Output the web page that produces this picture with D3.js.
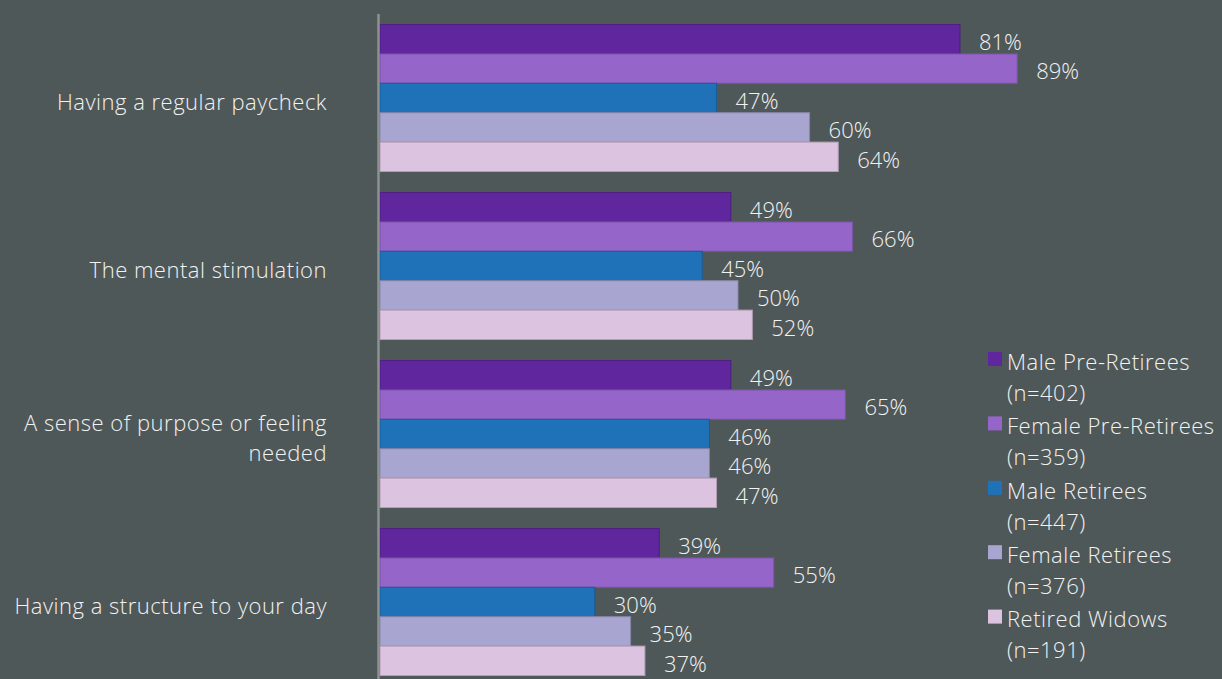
<!DOCTYPE html>
<html lang="en">
<head>
<meta charset="UTF-8">
<title>Work aspects missed</title>
<script src="https://d3js.org/d3.v7.min.js"></script>
<style>
  html, body { margin: 0; padding: 0; background: #4f5858; }
  svg { display: block; }
  text { font-family: "Open Sans", "Noto Sans", sans-serif; font-weight: 300; fill: #f2f2f2; }
</style>
</head>
<body>
<script>
// categories (top to bottom), label lines
const categories = [
  ["Having a regular paycheck"],
  ["The mental stimulation"],
  ["A sense of purpose or feeling", "needed"],
  ["Having a structure to your day"]
];

// series
const seriesNames = ["Male Pre-Retirees", "Female Pre-Retirees", "Male Retirees", "Female Retirees", "Retired Widows"];
const seriesN = ["(n=402)", "(n=359)", "(n=447)", "(n=376)", "(n=191)"];
const seriesColors = ["#60269e", "#9565ca", "#1f72b8", "#a8a6d0", "#dcc4e0"];

// values in %, one array per series, same order as categories
const malePre = [81, 49, 49, 39];
const femalePre = [89, 66, 65, 55];
const maleRet = [47, 45, 46, 30];
const femaleRet = [60, 50, 46, 35];
const widows = [64, 52, 47, 37];
const values = [malePre, femalePre, maleRet, femaleRet, widows];

const width = 1222, height = 679;

const svg = d3.select("body").append("svg")
  .attr("width", width)
  .attr("height", height);

const y0 = d3.scaleBand()
  .domain(d3.range(categories.length))
  .range([14, 686])
  .paddingInner(0.125)
  .paddingOuter(0.0625);

const y1 = d3.scaleBand()
  .domain(d3.range(seriesNames.length))
  .range([0, y0.bandwidth()]);

const x = d3.scaleLinear()
  .domain([0, 100])
  .range([380, 1096]);

// flatten data
const rows = [];
categories.forEach((c, ci) => {
  seriesNames.forEach((s, si) => {
    rows.push({ ci, si, v: values[si][ci] });
  });
});

const bars = svg.append("g");
bars.selectAll("rect")
  .data(rows)
  .join("rect")
  .attr("x", x(0))
  .attr("y", d => y0(d.ci) + y1(d.si))
  .attr("width", d => x(d.v) - x(0))
  .attr("height", y1.bandwidth())
  .attr("fill", d => seriesColors[d.si])
  .attr("stroke", d => d3.color(seriesColors[d.si]).darker(0.6))
  .attr("stroke-width", 1);

// value labels
svg.append("g").selectAll("text")
  .data(rows)
  .join("text")
  .attr("x", d => x(d.v) + 19)
  .attr("y", d => y0(d.ci) + y1(d.si) + y1.bandwidth() / 2 + 3)
  .attr("dy", "0.35em")
  .attr("font-size", 22)
  .text(d => d.v + "%");

// vertical axis line
svg.append("line")
  .attr("x1", 378.5).attr("x2", 378.5)
  .attr("y1", 14).attr("y2", height)
  .attr("stroke", "#8e9191")
  .attr("stroke-width", 2.5);

// category labels
const catG = svg.append("g");
categories.forEach((lines, ci) => {
  const cy = y0(ci) + y0.bandwidth() / 2 + 4;
  const t = catG.append("text")
    .attr("text-anchor", "end")
    .attr("font-size", 22)
    .attr("letter-spacing", 0.5);
  lines.forEach((ln, li) => {
    t.append("tspan")
      .attr("x", 327)
      .attr("y", cy + (li - (lines.length - 1) / 2) * 30)
      .attr("dy", "0.35em")
      .text(ln);
  });
});

// legend
const legend = svg.append("g");
seriesNames.forEach((name, i) => {
  const ly = 362 + i * 64.4;
  legend.append("rect")
    .attr("x", 988).attr("y", ly - 10)
    .attr("width", 14).attr("height", 14)
    .attr("fill", seriesColors[i]);
  legend.append("text")
    .attr("x", 1007).attr("y", ly)
    .attr("dy", "0.35em")
    .attr("font-size", 22)
    .attr("letter-spacing", 0.5)
    .text(name);
  legend.append("text")
    .attr("x", 1007).attr("y", ly + 31)
    .attr("dy", "0.35em")
    .attr("font-size", 22)
    .attr("letter-spacing", 0.5)
    .text(seriesN[i]);
});
</script>
</body>
</html>
